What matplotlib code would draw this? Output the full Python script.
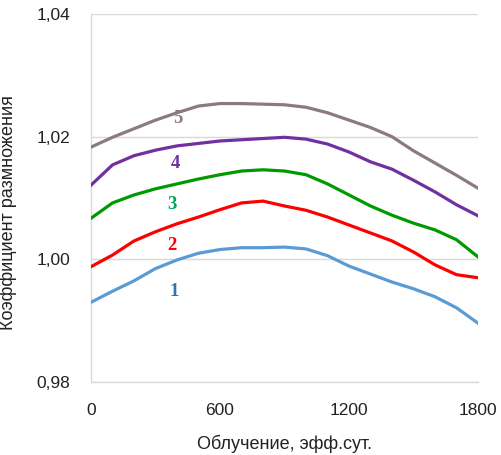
"""Коэффициент размножения в зависимости от облучения (кривые 1-5)."""

import matplotlib
matplotlib.use("Agg")
import matplotlib.pyplot as plt

# облучение, эфф.сут.
irradiation = [0, 100, 200, 300, 400, 500, 600, 700, 800, 900,
               1000, 1100, 1200, 1300, 1400, 1500, 1600, 1700, 1800]

k1 = [0.9930, 0.9948, 0.9965, 0.9985, 0.9999, 1.0010, 1.0016, 1.0019, 1.0019, 1.0020,
      1.0017, 1.0006, 0.9989, 0.9976, 0.9963, 0.9952, 0.9939, 0.9921, 0.9896]
k2 = [0.9988, 1.0007, 1.0030, 1.0045, 1.0058, 1.0069, 1.0081, 1.0092, 1.0095, 1.0087,
      1.0080, 1.0069, 1.0056, 1.0043, 1.0030, 1.0012, 0.9991, 0.9975, 0.9970]
k3 = [1.0067, 1.0092, 1.0105, 1.0115, 1.0123, 1.0131, 1.0138, 1.0144, 1.0146, 1.0144,
      1.0138, 1.0123, 1.0105, 1.0087, 1.0072, 1.0059, 1.0048, 1.0032, 1.0004]
k4 = [1.0121, 1.0154, 1.0169, 1.0178, 1.0185, 1.0189, 1.0193, 1.0195, 1.0197, 1.0199,
      1.0196, 1.0188, 1.0175, 1.0159, 1.0147, 1.0129, 1.0110, 1.0089, 1.0071]
k5 = [1.0183, 1.0199, 1.0213, 1.0227, 1.0239, 1.0250, 1.0254, 1.0254, 1.0253, 1.0252,
      1.0248, 1.0239, 1.0227, 1.0215, 1.0200, 1.0177, 1.0157, 1.0137, 1.0116]

curve_labels = ["1", "2", "3", "4", "5"]
label_x = [386, 377, 377, 391, 405]
label_y = [0.9948, 1.0023, 1.0090, 1.0157, 1.0230]

line_colors = ["#5B9BD5", "#FF0000", "#009A00", "#7030A0", "#8C7B7B"]
text_colors = ["#2E75B6", "#FF0000", "#00A650", "#7030A0", "#8C7B7B"]

xticks = [0, 600, 1200, 1800]
yticks = [0.98, 1.00, 1.02, 1.04]


def main() -> None:
    plt.rcParams["font.family"] = ["Liberation Sans", "DejaVu Sans"]

    fig = plt.figure(figsize=(5.02, 4.55), dpi=100)
    ax = fig.add_axes([0.1813, 0.1604, 0.7709, 0.8088])

    series = [k1, k2, k3, k4, k5]
    for values, color in zip(series, line_colors):
        ax.plot(irradiation, values, color=color, linewidth=2.3,
                solid_joinstyle="round", zorder=3)

    for text, x, y, color in zip(curve_labels, label_x, label_y, text_colors):
        ax.text(x, y, text, color=color, fontsize=13.5, fontweight="bold",
                family="Liberation Serif", ha="center", va="center", zorder=2)

    ax.set_xlim(0, 1800)
    ax.set_ylim(0.98, 1.04)
    ax.set_xticks(xticks)
    ax.set_yticks(yticks)
    ax.set_yticklabels([f"{v:.2f}".replace(".", ",") for v in yticks])

    ax.grid(axis="y", color="#D9D9D9", linewidth=1.0, zorder=0)
    for side in ["top", "right"]:
        ax.spines[side].set_visible(False)
    for side in ["left", "bottom"]:
        ax.spines[side].set_color("#D9D9D9")
        ax.spines[side].set_linewidth(1.0)

    ax.tick_params(length=0, labelsize=12.5, colors="#222222", pad=15)
    ax.set_xlabel("Облучение, эфф.сут.", fontsize=13, color="#222222", labelpad=12)
    ax.set_ylabel("Коэффициент размножения", fontsize=13, color="#222222", labelpad=12)
    ax.yaxis.set_label_coords(-0.19, 0.46)

    fig.savefig("out.png", dpi=100)


if __name__ == "__main__":
    main()
